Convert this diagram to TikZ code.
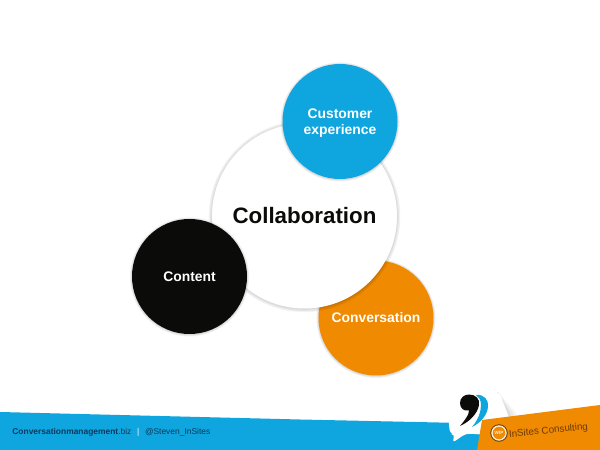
\documentclass[tikz,border=0pt]{standalone}
\usepackage{fontspec}
\setmainfont{Liberation Sans}
\usepackage{xcolor}
\usetikzlibrary{positioning,shadows}
\definecolor{bandblue}{HTML}{0FA5DF}
\definecolor{bandorange}{HTML}{F08A00}
\definecolor{inkblack}{HTML}{0B0B09}
\definecolor{darktext}{HTML}{0A3A5C}
\definecolor{logotext}{HTML}{6B3A06}
\tikzset{
	softshadow/.style={shadow xshift=0pt, shadow yshift=-0.008cm, shadow scale=#1, fill=black, opacity=0.05},
	bigcircle/.style={circle, inner sep=0pt, minimum size=2.3cm, align=center, font=\bfseries\fontsize{7.9}{9.1}\selectfont, text=white,
		drop shadow={softshadow=1.035}, drop shadow={softshadow=1.022}, drop shadow={softshadow=1.01}},
	footer/.style={inner sep=0pt, text=darktext, font=\fontsize{4.8}{6}\selectfont}
}
\begin{document}
\begin{tikzpicture}
	\useasboundingbox (0, 0) rectangle (12, 9);
	
	%%footer band%%
	\fill[bandblue] (0, 0) to (0, 0.76) to (6, 0.61) to (9.7, 0.53) to (9.7, 0) to cycle;
	\node[footer, anchor=west] (site) at (0.24, 0.35) {\textbf{Conversationmanagement}.biz};
	\node[footer, text=white, right=0.1cm of site] (bar) {|};
	\node[footer, right=0.1cm of bar] (handle) {@Steven\_InSites};
	
	%%speech bubble%%
	\fill[black, opacity=0.04] (9.95, 1.18) to (10.32, 0.74) to (10.36, 0.5) to (9.8, 0.5) to cycle;
	\fill[black, opacity=0.05] (9.95, 1.16) to (10.26, 0.74) to (10.3, 0.5) to (9.8, 0.5) to cycle;
	\fill[black, opacity=0.06] (9.95, 1.14) to (10.2, 0.74) to (10.24, 0.5) to (9.8, 0.5) to cycle;
	\fill[white, rounded corners=0.08cm] (8.94, 0.9) to (9.0, 0.32) to (9.1, 0.32) to (9.04, 0.14) to (9.32, 0.33) to (9.8, 0.3) to (10.2, 0.6) to (9.98, 1.16) to cycle;
	\fill[bandblue] (9.52, 1.1) .. controls (9.68, 1.12) and (9.78, 1) .. (9.76, 0.86)
		.. controls (9.74, 0.68) and (9.6, 0.54) .. (9.44, 0.46)
		.. controls (9.56, 0.6) and (9.62, 0.76) .. (9.62, 0.9)
		.. controls (9.62, 1) and (9.58, 1.06) .. (9.52, 1.1) to cycle;
	\fill[inkblack] (9.38, 1.11) .. controls (9.52, 1.11) and (9.6, 1.02) .. (9.58, 0.9)
		.. controls (9.55, 0.72) and (9.38, 0.56) .. (9.2, 0.48)
		.. controls (9.3, 0.6) and (9.38, 0.7) .. (9.38, 0.79)
		.. controls (9.27, 0.77) and (9.2, 0.84) .. (9.2, 0.94)
		.. controls (9.2, 1.04) and (9.28, 1.11) .. (9.38, 1.11) to cycle;
	
	%%logo%%
	\fill[bandorange] (9.54, 0) to (9.64, 0.6) to (12, 0.9) to (12, 0) to cycle;
	\fill[logotext] (9.98, 0.34) circle (0.175);
	\fill[white!85!bandorange] (9.98, 0.34) circle (0.155);
	\fill[bandorange] (9.98, 0.34) circle (0.125);
	\node[inner sep=0pt, text=white!85!bandorange, font=\bfseries\fontsize{2.6}{3}\selectfont] (wip) at (9.98, 0.34) {WIP};
	\node[inner sep=0pt, text=logotext, rotate=5.8, font=\fontsize{5.6}{7}\selectfont] (brand) at (10.97, 0.38) {InSites Consulting};
	
	%%circles%%
	\node[bigcircle, fill=bandorange] (conversation) at (7.52, 2.64) {\raisebox{-0.6pt}[6pt][2pt]{Conversation}};
	\node[bigcircle, minimum size=3.7cm, fill=white, text=inkblack, font=\bfseries\fontsize{12.7}{15}\selectfont] (collaboration) at (6.09, 4.68) {\raisebox{-1.5pt}[9pt][3pt]{Collaboration}};
	\node[bigcircle, fill=bandblue] (customer) at (6.8, 6.57) {\raisebox{-1pt}[6pt][2pt]{Customer}\\\raisebox{-1pt}[6pt][2pt]{experience}};
	\node[bigcircle, fill=inkblack] (content) at (3.79, 3.47) {\raisebox{-0.6pt}[6pt][2pt]{Content}};
\end{tikzpicture}
\end{document}
